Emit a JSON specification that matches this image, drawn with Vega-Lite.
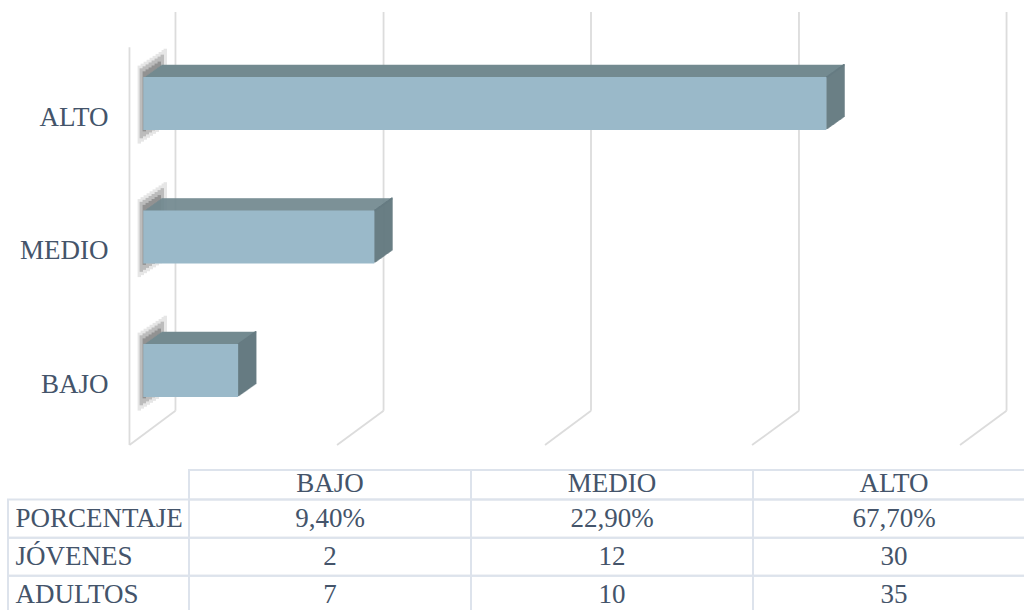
{"$schema":"https://vega.github.io/schema/vega-lite/v6.json","padding":{"left":0,"top":11,"right":0,"bottom":0},"background":"white","spacing":0,"bounds":"flush","config":{"view":{"stroke":null},"tick":{"opacity":1},"axis":{"labelFont":"Liberation Serif","labelFontSize":27,"labelColor":"#44546a","domain":false,"ticks":false,"grid":false,"title":null,"labelOverlap":false,"labelFlush":false},"text":{"font":"Liberation Serif","fontSize":27,"color":"#44546a"}},
"datasets":{"bars":[{"nivel":"ALTO","pct":67.7},{"nivel":"MEDIO","pct":22.9},{"nivel":"BAJO","pct":9.4}],"grid":[{"back":3.19,"front":-1.37},{"back":23.81,"front":19.2},{"back":44.37,"front":39.81},{"back":64.98,"front":60.33},{"back":85.55,"front":80.94}],"tabla":[{"fila":"PORCENTAJE","columna":"BAJO","valor":"9,40%"},{"fila":"PORCENTAJE","columna":"MEDIO","valor":"22,90%"},{"fila":"PORCENTAJE","columna":"ALTO","valor":"67,70%"},{"fila":"JÓVENES","columna":"BAJO","valor":"2"},{"fila":"JÓVENES","columna":"MEDIO","valor":"12"},{"fila":"JÓVENES","columna":"ALTO","valor":"30"},{"fila":"ADULTOS","columna":"BAJO","valor":"7"},{"fila":"ADULTOS","columna":"MEDIO","valor":"10"},{"fila":"ADULTOS","columna":"ALTO","valor":"35"}]},
"vconcat":[
{"width":1024,"height":434,"resolve":{"scale":{"y":"independent"}},"layer":[
{"data":{"name":"grid"},"layer":[
{"mark":{"type":"rule","color":"#dcdcdc","strokeWidth":1.8},"encoding":{"x":{"field":"back","type":"quantitative","scale":{"domain":[-14.2,87.28],"nice":false,"zero":false},"axis":null},"y":{"datum":0,"type":"quantitative","scale":{"domain":[0,1],"reverse":true},"axis":null},"y2":{"datum":0.919}}},
{"mark":{"type":"rule","color":"#dcdcdc","strokeWidth":1.8},"encoding":{"x":{"field":"back","type":"quantitative","axis":null},"x2":{"field":"front"},"y":{"datum":0.919,"type":"quantitative","axis":null},"y2":{"datum":0.9977}}},
{"transform":[{"filter":"datum.back < 5"}],"mark":{"type":"rule","color":"#dcdcdc","strokeWidth":1.8},"encoding":{"x":{"field":"front","type":"quantitative","axis":null},"y":{"datum":0.081,"type":"quantitative","axis":null},"y2":{"datum":0.9977}}}
]},
{"data":{"name":"bars"},"encoding":{"y":{"field":"nivel","type":"nominal","scale":{"type":"point","domain":["ALTO","MEDIO","BAJO"],"range":[105,372],"padding":0},"axis":{"offset":-118,"labelPadding":10}},"x":{"field":"pct","type":"quantitative","scale":{"domain":[-14.2,87.28],"nice":false,"zero":false},"axis":null}},
"layer":[
{"encoding":{"x":{"datum":0,"type":"quantitative"}},"layer":[
{"mark":{"type":"tick","orient":"vertical","color":"#e6e6e6","size":78,"thickness":3.4,"xOffset":-4,"yOffset":-12.4}},
{"mark":{"type":"tick","orient":"vertical","color":"#e6e6e6","size":78,"thickness":3.4,"xOffset":-1,"yOffset":-14.35}},
{"mark":{"type":"tick","orient":"vertical","color":"#e6e6e6","size":78,"thickness":3.4,"xOffset":2,"yOffset":-16.3}},
{"mark":{"type":"tick","orient":"vertical","color":"#e6e6e6","size":78,"thickness":3.4,"xOffset":5,"yOffset":-18.25}},
{"mark":{"type":"tick","orient":"vertical","color":"#e6e6e6","size":78,"thickness":3.4,"xOffset":8,"yOffset":-20.2}},
{"mark":{"type":"tick","orient":"vertical","color":"#e6e6e6","size":78,"thickness":3.4,"xOffset":11,"yOffset":-22.15}},
{"mark":{"type":"tick","orient":"vertical","color":"#e6e6e6","size":78,"thickness":3.4,"xOffset":14,"yOffset":-24.1}},
{"mark":{"type":"tick","orient":"vertical","color":"#e6e6e6","size":78,"thickness":3.4,"xOffset":17,"yOffset":-26.05}},
{"mark":{"type":"tick","orient":"vertical","color":"#e6e6e6","size":78,"thickness":3.4,"xOffset":20,"yOffset":-28}},
{"mark":{"type":"tick","orient":"vertical","color":"#e6e6e6","size":78,"thickness":3.4,"xOffset":22,"yOffset":-29.3}},
{"mark":{"type":"tick","orient":"vertical","color":"#bcbcbc","size":70,"thickness":3.4,"xOffset":-2,"yOffset":-13.7}},
{"mark":{"type":"tick","orient":"vertical","color":"#bcbcbc","size":70,"thickness":3.4,"xOffset":1,"yOffset":-15.65}},
{"mark":{"type":"tick","orient":"vertical","color":"#bcbcbc","size":70,"thickness":3.4,"xOffset":4,"yOffset":-17.6}},
{"mark":{"type":"tick","orient":"vertical","color":"#bcbcbc","size":70,"thickness":3.4,"xOffset":7,"yOffset":-19.55}},
{"mark":{"type":"tick","orient":"vertical","color":"#bcbcbc","size":70,"thickness":3.4,"xOffset":10,"yOffset":-21.5}},
{"mark":{"type":"tick","orient":"vertical","color":"#bcbcbc","size":70,"thickness":3.4,"xOffset":13,"yOffset":-23.45}},
{"mark":{"type":"tick","orient":"vertical","color":"#bcbcbc","size":70,"thickness":3.4,"xOffset":16,"yOffset":-25.4}},
{"mark":{"type":"tick","orient":"vertical","color":"#bcbcbc","size":70,"thickness":3.4,"xOffset":19,"yOffset":-27.35}},
{"mark":{"type":"tick","orient":"vertical","color":"#929292","size":60,"thickness":3.4,"xOffset":1,"yOffset":-15.65}},
{"mark":{"type":"tick","orient":"vertical","color":"#929292","size":60,"thickness":3.4,"xOffset":4,"yOffset":-17.6}},
{"mark":{"type":"tick","orient":"vertical","color":"#929292","size":60,"thickness":3.4,"xOffset":7,"yOffset":-19.55}},
{"mark":{"type":"tick","orient":"vertical","color":"#929292","size":60,"thickness":3.4,"xOffset":10,"yOffset":-21.5}},
{"mark":{"type":"tick","orient":"vertical","color":"#929292","size":60,"thickness":3.4,"xOffset":13,"yOffset":-23.45}},
{"mark":{"type":"tick","orient":"vertical","color":"#929292","size":60,"thickness":3.4,"xOffset":16,"yOffset":-25.4}}
]},
{"encoding":{"x2":{"datum":0}},"layer":[
{"mark":{"type":"bar","color":"#738a91","height":1.6,"xOffset":18,"x2Offset":18,"yOffset":-51.5}},
{"mark":{"type":"bar","color":"#738a91","height":1.6,"xOffset":16.6,"x2Offset":16.6,"yOffset":-50.5}},
{"mark":{"type":"bar","color":"#738a91","height":1.6,"xOffset":15.2,"x2Offset":15.2,"yOffset":-49.5}},
{"mark":{"type":"bar","color":"#738a91","height":1.6,"xOffset":13.8,"x2Offset":13.8,"yOffset":-48.5}},
{"mark":{"type":"bar","color":"#738a91","height":1.6,"xOffset":12.4,"x2Offset":12.4,"yOffset":-47.5}},
{"mark":{"type":"bar","color":"#738a91","height":1.6,"xOffset":11,"x2Offset":11,"yOffset":-46.5}},
{"mark":{"type":"bar","color":"#738a91","height":1.6,"xOffset":9.6,"x2Offset":9.6,"yOffset":-45.5}},
{"mark":{"type":"bar","color":"#738a91","height":1.6,"xOffset":8.2,"x2Offset":8.2,"yOffset":-44.5}},
{"mark":{"type":"bar","color":"#738a91","height":1.6,"xOffset":6.8,"x2Offset":6.8,"yOffset":-43.5}},
{"mark":{"type":"bar","color":"#738a91","height":1.6,"xOffset":5.4,"x2Offset":5.4,"yOffset":-42.5}},
{"mark":{"type":"bar","color":"#738a91","height":1.6,"xOffset":4,"x2Offset":4,"yOffset":-41.5}},
{"mark":{"type":"bar","color":"#738a91","height":1.6,"xOffset":2.6,"x2Offset":2.6,"yOffset":-40.5}},
{"mark":{"type":"bar","color":"#738a91","height":1.6,"xOffset":1.2,"x2Offset":1.2,"yOffset":-39.5}}
]},
{"layer":[
{"mark":{"type":"tick","orient":"vertical","color":"#667b82","size":53,"thickness":1.6,"xOffset":17.5,"yOffset":-26.4}},
{"mark":{"type":"tick","orient":"vertical","color":"#667b82","size":53,"thickness":1.6,"xOffset":16.5,"yOffset":-25.7}},
{"mark":{"type":"tick","orient":"vertical","color":"#667b82","size":53,"thickness":1.6,"xOffset":15.5,"yOffset":-25}},
{"mark":{"type":"tick","orient":"vertical","color":"#667b82","size":53,"thickness":1.6,"xOffset":14.5,"yOffset":-24.3}},
{"mark":{"type":"tick","orient":"vertical","color":"#667b82","size":53,"thickness":1.6,"xOffset":13.5,"yOffset":-23.6}},
{"mark":{"type":"tick","orient":"vertical","color":"#667b82","size":53,"thickness":1.6,"xOffset":12.5,"yOffset":-22.9}},
{"mark":{"type":"tick","orient":"vertical","color":"#667b82","size":53,"thickness":1.6,"xOffset":11.5,"yOffset":-22.2}},
{"mark":{"type":"tick","orient":"vertical","color":"#667b82","size":53,"thickness":1.6,"xOffset":10.5,"yOffset":-21.5}},
{"mark":{"type":"tick","orient":"vertical","color":"#667b82","size":53,"thickness":1.6,"xOffset":9.5,"yOffset":-20.7}},
{"mark":{"type":"tick","orient":"vertical","color":"#667b82","size":53,"thickness":1.6,"xOffset":8.5,"yOffset":-20}},
{"mark":{"type":"tick","orient":"vertical","color":"#667b82","size":53,"thickness":1.6,"xOffset":7.5,"yOffset":-19.3}},
{"mark":{"type":"tick","orient":"vertical","color":"#667b82","size":53,"thickness":1.6,"xOffset":6.5,"yOffset":-18.6}},
{"mark":{"type":"tick","orient":"vertical","color":"#667b82","size":53,"thickness":1.6,"xOffset":5.5,"yOffset":-17.9}},
{"mark":{"type":"tick","orient":"vertical","color":"#667b82","size":53,"thickness":1.6,"xOffset":4.5,"yOffset":-17.2}},
{"mark":{"type":"tick","orient":"vertical","color":"#667b82","size":53,"thickness":1.6,"xOffset":3.5,"yOffset":-16.5}},
{"mark":{"type":"tick","orient":"vertical","color":"#667b82","size":53,"thickness":1.6,"xOffset":2.5,"yOffset":-15.8}},
{"mark":{"type":"tick","orient":"vertical","color":"#667b82","size":53,"thickness":1.6,"xOffset":1.5,"yOffset":-15.1}},
{"mark":{"type":"tick","orient":"vertical","color":"#667b82","size":53,"thickness":1.6,"xOffset":0.5,"yOffset":-14.4}}
]},
{"encoding":{"x2":{"datum":0}},"mark":{"type":"bar","color":"#9ab9c9","height":53,"yOffset":-13.5}}
]}
]},
{"width":1024,"height":165,"data":{"name":"tabla"},"encoding":{"x":{"field":"columna","type":"nominal","scale":{"type":"band","domain":["BAJO","MEDIO","ALTO"],"range":[189,1035],"paddingInner":0,"paddingOuter":0},"axis":{"orient":"top","labelPadding":-37,"labelBaseline":"middle","labelAngle":0}},"y":{"field":"fila","type":"nominal","scale":{"type":"band","domain":["PORCENTAJE","JÓVENES","ADULTOS"],"range":[53.5,168],"paddingInner":0,"paddingOuter":0},"axis":{"labelAlign":"left","labelPadding":-15,"labelBaseline":"middle"}}},
"layer":[
{"mark":{"type":"rect","fill":"transparent","stroke":"#dde3ec","strokeWidth":2}},
{"transform":[{"filter":"datum.fila === 'PORCENTAJE'"}],"mark":{"type":"rect","fill":"transparent","stroke":"#dde3ec","strokeWidth":2,"height":29.5,"yOffset":-33.9}},
{"transform":[{"filter":"datum.columna === 'BAJO'"}],"mark":{"type":"rect","fill":"transparent","stroke":"#dde3ec","strokeWidth":2,"width":181,"xOffset":-231.5}},
{"mark":{"type":"text","align":"center","baseline":"middle"},"encoding":{"text":{"field":"valor","type":"nominal"}}}
]}
]}
